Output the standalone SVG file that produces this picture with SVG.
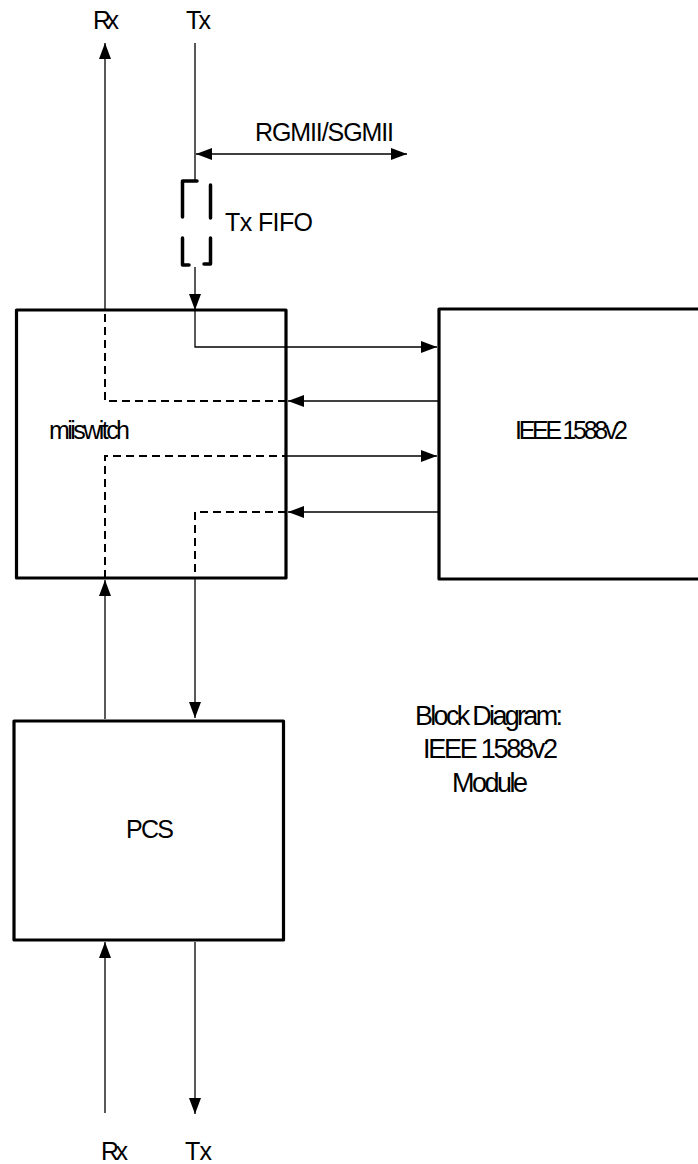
<svg xmlns="http://www.w3.org/2000/svg" width="698" height="1164" viewBox="0 0 698 1164">
<style>
text{font-family:"Liberation Sans",Arial,sans-serif;font-size:25px;fill:#000}
.cap{font-size:27px}
.box{fill:#fff;stroke:#000;stroke-width:3.2;stroke-linejoin:round}
.ln{fill:none;stroke:#000;stroke-width:1.3}
.dash{fill:none;stroke:#000;stroke-width:2;stroke-dasharray:8 5}
.fifo{fill:none;stroke:#000;stroke-width:3.5;stroke-linecap:round;stroke-linejoin:round}
</style>
<defs>
<marker id="ah" markerUnits="userSpaceOnUse" markerWidth="16" markerHeight="12" refX="16" refY="6" orient="auto-start-reverse">
<path d="M0,0 L16,6 L0,12 z" fill="#000"/>
</marker>
</defs>
<rect width="698" height="1164" fill="#fff"/>
<g id="miiswitch">
<rect class="box" x="16.5" y="310" width="269.5" height="268"/>
<text x="49" y="439" textLength="81" lengthAdjust="spacing">miiswitch</text>
</g>
<g id="ieee1588">
<rect class="box" x="439" y="309" width="300" height="270"/>
<text x="515" y="439" textLength="113" lengthAdjust="spacing">IEEE 1588v2</text>
</g>
<g id="pcs">
<rect class="box" x="14" y="721" width="269.5" height="219"/>
<text x="126" y="838" textLength="48" lengthAdjust="spacing">PCS</text>
</g>
<g id="txfifo">
<path class="fifo" d="M197,181 H182.5 V217 M182.5,238 V265 H189 M210.5,185 V218 M210.5,238 V264 H204"/>
<text x="225" y="231" textLength="88" lengthAdjust="spacing">Tx FIFO</text>
</g>
<g id="connectors">
<path class="ln" d="M195,43 V181"/>
<path class="ln" d="M195,267 V310" marker-end="url(#ah)"/>
<path class="ln" d="M195,310 V347 H437" marker-end="url(#ah)"/>
<path class="ln" d="M196,154 H407" marker-start="url(#ah)" marker-end="url(#ah)"/>
<path class="ln" d="M439,401 H288" marker-end="url(#ah)"/>
<path class="dash" d="M286,401 H105 V310"/>
<path class="ln" d="M105,310 V43" marker-end="url(#ah)"/>
<path class="ln" d="M105,1113 V942" marker-end="url(#ah)"/>
<path class="ln" d="M105,719 V580" marker-end="url(#ah)"/>
<path class="dash" d="M105,578 V456 H286"/>
<path class="ln" d="M286,456 H437" marker-end="url(#ah)"/>
<path class="ln" d="M439,512 H288" marker-end="url(#ah)"/>
<path class="dash" d="M286,512 H195 V578"/>
<path class="ln" d="M195,578 V718" marker-end="url(#ah)"/>
<path class="ln" d="M195,942 V1114" marker-end="url(#ah)"/>
</g>
<g id="labels">
<text x="93" y="29" textLength="26" lengthAdjust="spacing">Rx</text>
<text x="186" y="29" textLength="25" lengthAdjust="spacing">Tx</text>
<text x="255" y="141" textLength="139" lengthAdjust="spacing">RGMII/SGMII</text>
<text x="101" y="1160" textLength="27" lengthAdjust="spacing">Rx</text>
<text x="185" y="1160" textLength="27" lengthAdjust="spacing">Tx</text>
</g>
<g id="caption">
<text class="cap" x="415" y="725" textLength="148" lengthAdjust="spacing">Block Diagram:</text>
<text class="cap" x="423" y="758" textLength="135" lengthAdjust="spacing">IEEE 1588v2</text>
<text class="cap" x="452" y="792" textLength="76" lengthAdjust="spacing">Module</text>
</g>
</svg>
